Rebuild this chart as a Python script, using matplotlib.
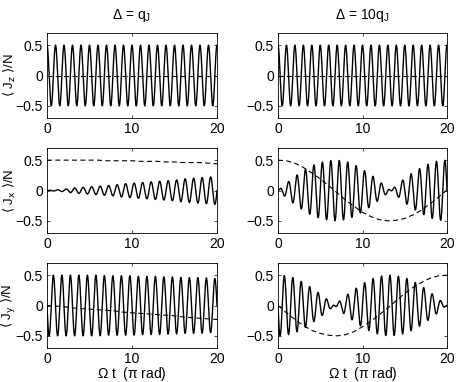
import numpy as np
import matplotlib as mpl
mpl.use('Agg')
import matplotlib.pyplot as plt

plt.rcParams['font.family'] = ['Liberation Sans', 'DejaVu Sans']
plt.rcParams['font.size'] = 10
plt.rcParams['mathtext.fontset'] = 'custom'
plt.rcParams['mathtext.rm'] = 'Liberation Sans'
plt.rcParams['mathtext.it'] = 'Liberation Sans'
plt.rcParams['axes.unicode_minus'] = True

# sample times (Omega t, in pi rad)
t_s = [0, 1, 2, 3, 4, 5, 6, 7, 8, 9, 10, 11, 12, 13, 14, 15, 16, 17, 18, 19, 20]
n_cycles = 20

# Delta = q_J (left column): envelopes of the solid curves and the dashed curves
jz_env_l = [0.5] * 21
jz_dash_l = [0.0] * 21
jx_env_l = [0.00, 0.01, 0.02, 0.04, 0.05, 0.06, 0.07, 0.08, 0.09, 0.11, 0.12,
            0.13, 0.14, 0.15, 0.16, 0.17, 0.19, 0.20, 0.21, 0.22, 0.23]
jx_dash_l = [0.50, 0.50, 0.50, 0.50, 0.50, 0.50, 0.50, 0.49, 0.49, 0.49, 0.49,
             0.48, 0.48, 0.48, 0.47, 0.47, 0.46, 0.46, 0.46, 0.45, 0.44]
jy_env_l = [0.50, 0.50, 0.50, 0.50, 0.50, 0.50, 0.50, 0.49, 0.49, 0.49, 0.49,
            0.48, 0.48, 0.48, 0.47, 0.47, 0.46, 0.46, 0.46, 0.45, 0.44]
jy_dash_l = [0.00, -0.01, -0.02, -0.04, -0.05, -0.06, -0.07, -0.08, -0.09, -0.11, -0.12,
             -0.13, -0.14, -0.15, -0.16, -0.17, -0.19, -0.20, -0.21, -0.22, -0.23]

# Delta = 10 q_J (right column)
jz_env_r = [0.5] * 21
jz_dash_r = [0.0] * 21
jx_env_r = [0.00, 0.12, 0.23, 0.33, 0.41, 0.46, 0.49, 0.50, 0.48, 0.43, 0.35,
            0.26, 0.15, 0.04, -0.08, -0.20, -0.30, -0.38, -0.45, -0.49, -0.50]
jx_dash_r = [0.50, 0.49, 0.45, 0.38, 0.29, 0.19, 0.08, -0.04, -0.16, -0.26, -0.36,
             -0.43, -0.48, -0.50, -0.49, -0.46, -0.40, -0.32, -0.22, -0.11, 0.01]
jy_env_r = [0.50, 0.49, 0.45, 0.38, 0.29, 0.19, 0.08, -0.04, -0.16, -0.26, -0.36,
            -0.43, -0.48, -0.50, -0.49, -0.46, -0.40, -0.32, -0.22, -0.11, 0.01]
jy_dash_r = [0.00, -0.12, -0.23, -0.33, -0.41, -0.46, -0.49, -0.50, -0.48, -0.43, -0.35,
             -0.26, -0.15, -0.04, 0.08, 0.20, 0.30, 0.38, 0.45, 0.49, 0.50]

titles = [r'$\Delta$ = q$_\mathrm{J}$', r'$\Delta$ = 10q$_\mathrm{J}$']
ylabels = [r'$\langle$ J$_\mathrm{z}$ $\rangle$/N',
           r'$\langle$ J$_\mathrm{x}$ $\rangle$/N',
           r'$\langle$ J$_\mathrm{y}$ $\rangle$/N']
xlabel = r'$\Omega$ t  ($\pi$ rad)'

t = np.linspace(0, 20, 4001)
phase = 2 * np.pi * n_cycles * t / 20
carriers = [np.cos(phase), np.sin(phase), -np.sin(phase)]

panels = [[(jz_env_l, jz_dash_l), (jz_env_r, jz_dash_r)],
          [(jx_env_l, jx_dash_l), (jx_env_r, jx_dash_r)],
          [(jy_env_l, jy_dash_l), (jy_env_r, jy_dash_r)]]

W, H = 458, 382
fig = plt.figure(figsize=(W / 100, H / 100), dpi=100)
lefts = [47, 278]
widths = [170, 169]
tops = [33, 148, 263]
ah = 85

for r in range(3):
    for c in range(2):
        ax = fig.add_axes([lefts[c] / W, 1 - (tops[r] + ah) / H, widths[c] / W, ah / H])
        env, dash = panels[r][c]
        ax.plot(t, np.interp(t, t_s, env) * carriers[r], color='k', lw=1.0)
        ax.plot(t_s, dash, color='k', lw=0.8, dashes=(4.5, 3))
        ax.set_xlim(0, 20)
        ax.set_ylim(-0.7, 0.7)
        ax.set_xticks([0, 10, 20])
        ax.set_yticks([-0.5, 0, 0.5])
        ax.set_yticklabels(['\u22120.5', '0', '0.5'])
        ax.tick_params(direction='in', length=2.5, width=0.5, top=True, right=True,
                       labelsize=10, pad=3)
        for s in ax.spines.values():
            s.set_linewidth(0.6)
        if c == 0:
            ax.set_ylabel(ylabels[r], fontsize=9.5, math_fontfamily='dejavusans')
            ax.yaxis.set_label_coords(-0.17, 0.5)
        if r == 0:
            ax.set_title(titles[c], fontsize=10, pad=10)
        if r == 2:
            ax.set_xlabel(xlabel, fontsize=10)
            ax.xaxis.set_label_coords(0.5, -0.2)

fig.savefig('out.png', dpi=100)
